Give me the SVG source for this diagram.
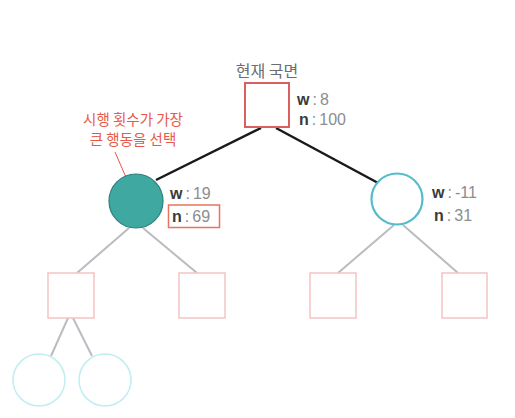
<svg xmlns="http://www.w3.org/2000/svg" width="515" height="418" viewBox="0 0 515 418">
<defs>
<style>
text{font-family:"Noto Sans CJK KR","Noto Sans",sans-serif;}
.lbl{font-family:"Liberation Sans","Noto Sans",sans-serif;font-size:16px;fill:#8a8d91;}
.k{font-weight:bold;fill:#3a3a3a;}
.ann{font-size:14.5px;fill:#e8594a;text-anchor:middle;}
.title{font-size:16px;fill:#6a6d71;text-anchor:middle;}
.sqFaint{fill:#fff;stroke:#f3c4c4;stroke-width:1.5;}
.cFaint{fill:#fff;stroke:#bfeef3;stroke-width:1.5;}
.gl{stroke:#b9bcc0;stroke-width:2;fill:none;}
.bl{stroke:#1a1a1a;stroke-width:2.5;fill:none;}
</style>
</defs>
<rect width="515" height="418" fill="#fff"/>
<g id="connectors">
<line class="bl" x1="261" y1="128" x2="156" y2="180"/>
<line class="bl" x1="276" y1="128" x2="380" y2="184"/>
<line class="gl" x1="129" y1="228" x2="77" y2="273"/>
<line class="gl" x1="143" y1="228" x2="197" y2="273"/>
<line class="gl" x1="394" y1="225" x2="338" y2="273"/>
<line class="gl" x1="403" y1="225" x2="458" y2="273"/>
<line class="gl" x1="68" y1="318" x2="51" y2="356"/>
<line class="gl" x1="73" y1="318" x2="92" y2="356"/>
<line stroke="#e8594a" stroke-width="1" x1="115" y1="152" x2="128" y2="182"/>
</g>
<g id="root">
<text class="title" x="267" y="77">현재 국면</text>
<rect x="245" y="83" width="44" height="44" fill="#fff" stroke="#d9605e" stroke-width="2"/>
<text class="lbl" x="297" y="105"><tspan class="k">w</tspan><tspan dx="3">:</tspan><tspan dx="3">8</tspan></text>
<text class="lbl" x="299" y="125"><tspan class="k">n</tspan><tspan dx="3">:</tspan><tspan dx="3">100</tspan></text>
</g>
<g id="annotation">
<text class="ann" x="133" y="125">시행 횟수가 가장</text>
<text class="ann" x="133" y="145">큰 행동을 선택</text>
</g>
<g id="left">
<circle cx="136" cy="201" r="27" fill="#3ea8a1" stroke="#2e7f7b" stroke-width="1.2"/>
<text class="lbl" x="170" y="199"><tspan class="k">w</tspan><tspan dx="3">:</tspan><tspan dx="3">19</tspan></text>
<rect x="168.5" y="205" width="51" height="22.5" fill="none" stroke="#e8735f" stroke-width="1.5"/>
<text class="lbl" x="172" y="222"><tspan class="k">n</tspan><tspan dx="3">:</tspan><tspan dx="3">69</tspan></text>
</g>
<g id="right">
<circle cx="397" cy="199" r="25.5" fill="#fff" stroke="#56bccb" stroke-width="2.2"/>
<text class="lbl" x="432" y="198"><tspan class="k">w</tspan><tspan dx="3">:</tspan><tspan dx="3">-11</tspan></text>
<text class="lbl" x="434" y="221"><tspan class="k">n</tspan><tspan dx="3">:</tspan><tspan dx="3">31</tspan></text>
</g>
<g id="ll"><rect class="sqFaint" x="48" y="273" width="46" height="45"/></g>
<g id="lr"><rect class="sqFaint" x="179" y="273" width="46" height="45"/></g>
<g id="rl"><rect class="sqFaint" x="310" y="273" width="46" height="45"/></g>
<g id="rr"><rect class="sqFaint" x="442" y="273" width="45" height="45"/></g>
<g id="lll"><circle class="cFaint" cx="39" cy="380" r="26"/></g>
<g id="llr"><circle class="cFaint" cx="105" cy="380" r="26"/></g>
</svg>
